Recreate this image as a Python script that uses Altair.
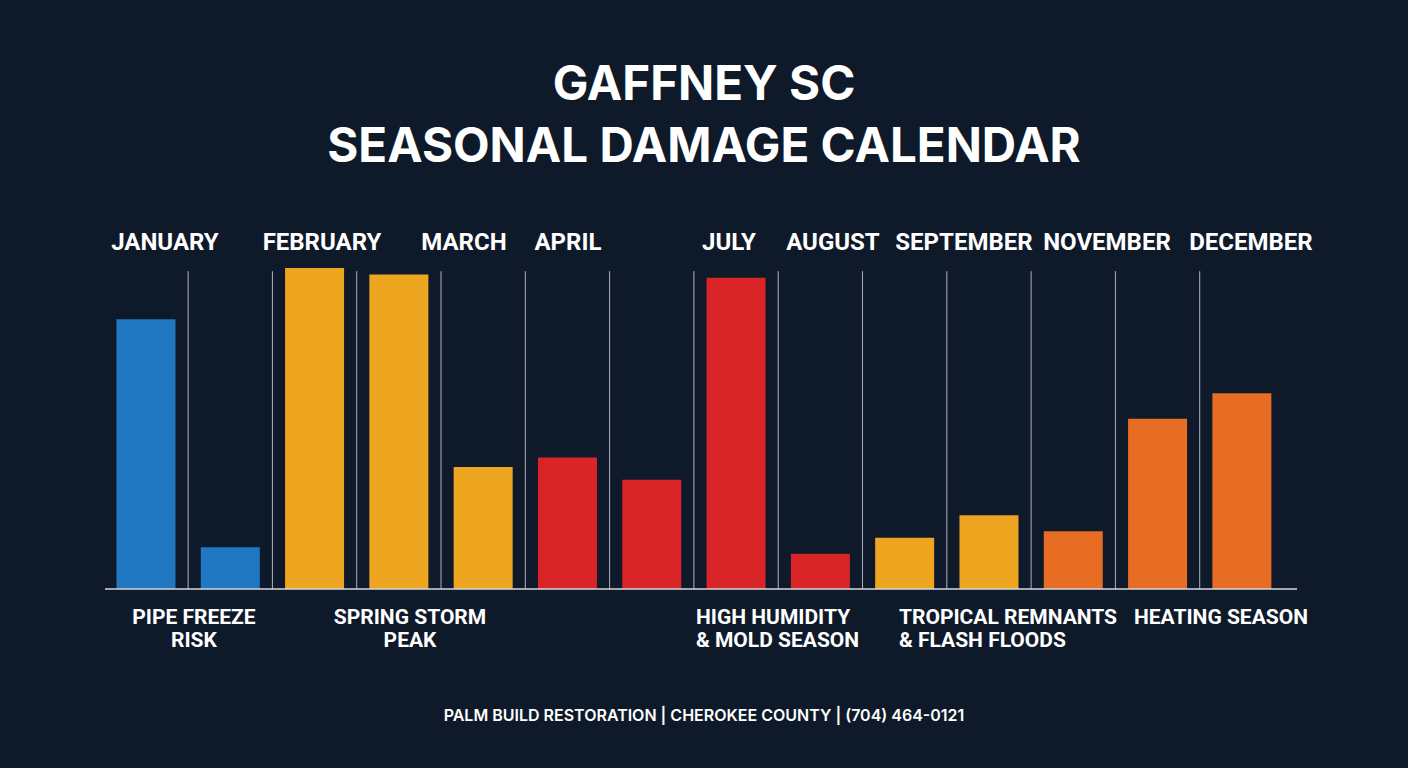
import altair as alt
import pandas as pd

# ---- data ----
slot = list(range(14))
risk_value = [84, 13, 100, 98, 38, 41, 34, 97, 11, 16, 23, 18, 53, 61]
hazard = ["Freeze", "Freeze", "Storm", "Storm", "Storm", "Humidity", "Humidity",
          "Humidity", "Humidity", "Tropical", "Tropical", "Heating", "Heating", "Heating"]

month_labels = ["JANUARY", "FEBRUARY", "MARCH", "APRIL", "JULY", "AUGUST",
                "SEPTEMBER", "NOVEMBER", "DECEMBER"]
month_label_slot = [0.225, 2.088, 3.772, 5.006, 6.916, 8.149, 9.703, 11.40, 13.108]

note_center_text = ["PIPE FREEZE\nRISK", "SPRING STORM\nPEAK", "HEATING SEASON"]
note_center_slot = [0.569, 3.132, 12.752]
note_left_text = ["HIGH HUMIDITY\n\u00a0\u00a0& MOLD SEASON", "TROPICAL REMNANTS\n\u00a0& FLASH FLOODS"]
note_left_slot = [6.524, 8.932]

title_lines = ["GAFFNEY SC", "SEASONAL DAMAGE CALENDAR"]
footer = "PALM BUILD RESTORATION | CHEROKEE COUNTY | (704) 464-0121"

hazard_domain = ["Freeze", "Storm", "Humidity", "Tropical", "Heating"]
hazard_colors = ["#1f78c1", "#eea621", "#d92527", "#eea621", "#e66d23"]

BG = "#0e1a29"
W, H = 1192, 321
FONT = "Roboto"
X_DOMAIN = [-0.486, 13.654]

bars_df = pd.DataFrame({"slot": slot, "value": risk_value, "hazard": hazard})
sep_df = pd.DataFrame({"slot": slot[:-1]})
month_df = pd.DataFrame({"label": month_labels, "at": month_label_slot})
nc_df = pd.DataFrame({"label": note_center_text, "at": note_center_slot})
nl_df = pd.DataFrame({"label": note_left_text, "at": note_left_slot})
title_df = pd.DataFrame({"t": title_lines, "row": [0, 1]})
footer_df = pd.DataFrame({"t": [footer]})

xscale = alt.Scale(domain=X_DOMAIN, nice=False, zero=False)
yscale = alt.Scale(domain=[0, 100], nice=False)

bars = alt.Chart(bars_df).transform_calculate(
    lo="datum.slot - 0.35", hi="datum.slot + 0.35"
).mark_bar(cornerRadius=0).encode(
    x=alt.X("lo:Q", scale=xscale, axis=None),
    x2="hi:Q",
    y=alt.Y("value:Q", scale=yscale, axis=None),
    y2=alt.datum(0),
    color=alt.Color("hazard:N", scale=alt.Scale(domain=hazard_domain, range=hazard_colors), legend=None),
)

seps = alt.Chart(sep_df).transform_calculate(
    pos="datum.slot + 0.5", top="99"
).mark_rule(color="#c9ced6", strokeWidth=1, opacity=0.85).encode(
    x=alt.X("pos:Q", scale=xscale, axis=None),
    y=alt.Y("top:Q", scale=yscale, axis=None),
    y2=alt.datum(0),
)

baseline = alt.Chart(pd.DataFrame({"a": [X_DOMAIN[0]], "b": [X_DOMAIN[1]]})).mark_rule(
    color="#d3d8e0", strokeWidth=1.5
).encode(
    x=alt.X("a:Q", scale=xscale, axis=None), x2="b:Q",
    y=alt.value(H),
)

months = alt.Chart(month_df).mark_text(
    font=FONT, fontSize=24, fontWeight="bold", color="white", baseline="alphabetic", align="center"
).encode(
    x=alt.X("at:Q", scale=xscale, axis=None), y=alt.value(-18), text="label:N"
)

notes_c = alt.Chart(nc_df).mark_text(
    font=FONT, fontSize=21, fontWeight="bold", color="white", baseline="alphabetic",
    align="center", lineBreak="\n", lineHeight=23
).encode(
    x=alt.X("at:Q", scale=xscale, axis=None), y=alt.value(356), text="label:N"
)

notes_l = alt.Chart(nl_df).mark_text(
    font=FONT, fontSize=21, fontWeight="bold", color="white", baseline="alphabetic",
    align="left", lineBreak="\n", lineHeight=23
).encode(
    x=alt.X("at:Q", scale=xscale, axis=None), y=alt.value(356), text="label:N"
)

title1 = alt.Chart(title_df).transform_filter("datum.row == 0").mark_text(
    font="Inter", fontSize=47.5, fontWeight="bold", color="white", baseline="alphabetic", align="center"
).encode(x=alt.value(599), y=alt.value(-168), text="t:N")

title2 = alt.Chart(title_df).transform_filter("datum.row == 1").mark_text(
    font="Inter", fontSize=47.5, fontWeight="bold", color="white", baseline="alphabetic", align="center"
).encode(x=alt.value(599), y=alt.value(-106), text="t:N")

foot = alt.Chart(footer_df).mark_text(
    font="Inter", fontSize=16, fontWeight=600, color="white", baseline="alphabetic", align="center"
).encode(x=alt.value(599), y=alt.value(453), text="t:N")

chart = alt.layer(seps, bars, baseline, months, notes_c, notes_l, title1, title2, foot).properties(
    width=W, height=H,
    autosize=alt.AutoSizeParams(type="none"),
    padding={"left": 105, "top": 268, "right": 1408 - 105 - W, "bottom": 768 - 268 - H},
    background=BG,
).configure_view(stroke=None)

chart.save("out.html", embed_options={"renderer": "svg", "actions": False})
